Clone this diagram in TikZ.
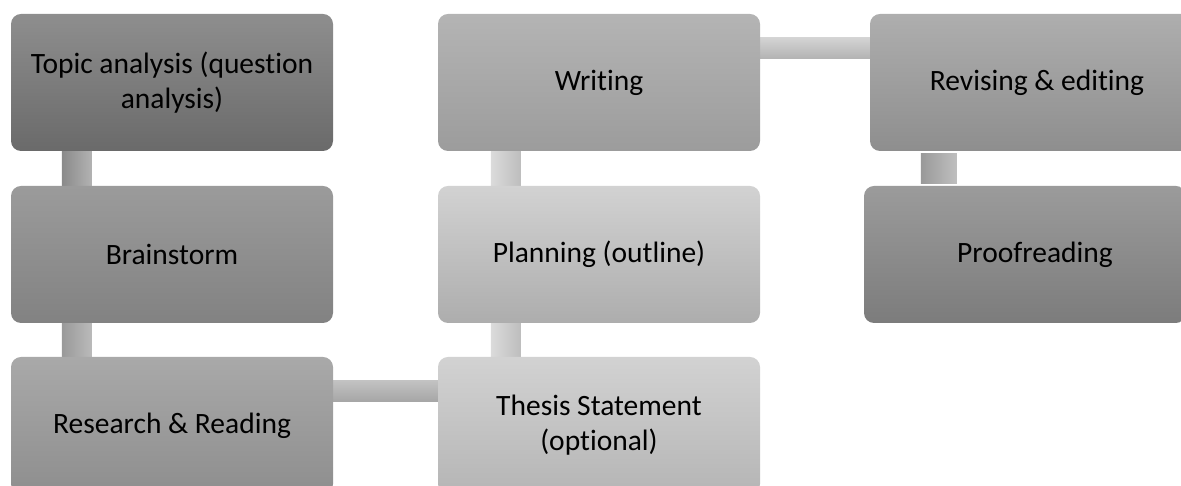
\documentclass[tikz,border=0pt]{standalone}
\usepackage{fontspec}
\setmainfont{Carlito}[Ligatures=NoCommon]
\usetikzlibrary{backgrounds}
\definecolor{tA}{HTML}{8E8E8E}\definecolor{bA}{HTML}{6A6A6A}
\definecolor{tB}{HTML}{9B9B9B}\definecolor{bB}{HTML}{828282}
\definecolor{tC}{HTML}{A9A9A9}\definecolor{bC}{HTML}{8E8E8E}
\definecolor{tD}{HTML}{B4B4B4}\definecolor{bD}{HTML}{9C9C9C}
\definecolor{tE}{HTML}{D2D2D2}\definecolor{bE}{HTML}{ADADAD}
\definecolor{tF}{HTML}{D2D2D2}\definecolor{bF}{HTML}{B5B5B5}
\definecolor{tG}{HTML}{AEAEAE}\definecolor{bG}{HTML}{8E8E8E}
\definecolor{tH}{HTML}{9B9B9B}\definecolor{bH}{HTML}{7C7C7C}
\tikzset{
  stepbox/.style={rectangle, rounded corners=10pt, minimum width=322pt, minimum height=137pt,
    inner sep=0pt, align=center, font=\fontsize{29.5}{35}\selectfont, text=black},
}
\begin{document}
\begin{tikzpicture}[x=1pt,y=1pt]
\useasboundingbox (0,0) rectangle (1181,486);
\clip (0,0) rectangle (1181,486);
% y_tikz = 486 - y_img
\node[stepbox, top color=tA, bottom color=bA] (topic) at (172,403.5) {Topic analysis (question\\analysis)};
\node[stepbox, top color=tB, bottom color=bB] (brain) at (172,231.5) {Brainstorm};
\node[stepbox, top color=tC, bottom color=bC] (research) at (172,60.5) {Research \& Reading};
\node[stepbox, top color=tD, bottom color=bD] (writing) at (599,403.5) {Writing};
\node[stepbox, top color=tE, bottom color=bE] (planning) at (599,231.5) {Planning (outline)};
\node[stepbox, top color=tF, bottom color=bF] (thesis) at (599,60.5) {Thesis Statement\\(optional)};
\node[stepbox, top color=tG, bottom color=bG] (revising) at (1031,403.5) {\hspace*{12pt}Revising \& editing};
\node[stepbox, top color=tH, bottom color=bH] (proof) at (1025,231.5) {\hspace*{20pt}Proofreading};
\begin{scope}[on background layer]
\shade[left color=black!46, right color=black!30]
  ([xshift=51pt,yshift=2pt]topic.south west) rectangle ([xshift=81pt,yshift=-2pt]brain.north west);
\shade[left color=black!40, right color=black!27]
  ([xshift=51pt,yshift=2pt]brain.south west) rectangle ([xshift=81pt,yshift=-2pt]research.north west);
\shade[left color=black!14, right color=black!26]
  ([xshift=53pt,yshift=2pt]writing.south west) rectangle ([xshift=83pt,yshift=-2pt]planning.north west);
\shade[left color=black!14, right color=black!26]
  ([xshift=53pt,yshift=2pt]planning.south west) rectangle ([xshift=83pt,yshift=-2pt]thesis.north west);
\shade[left color=black!40, right color=black!25]
  ([xshift=57pt,yshift=2pt]proof.north west) rectangle ([xshift=87pt,yshift=-2pt]revising.south west);
\shade[top color=black!17, bottom color=black!30]
  ([xshift=-2pt,yshift=-24pt]writing.north east) rectangle ([xshift=2pt,yshift=-45pt]revising.north west);
\shade[top color=black!24, bottom color=black!35]
  ([xshift=-2pt,yshift=-24pt]research.north east) rectangle ([xshift=2pt,yshift=-45pt]thesis.north west);
\end{scope}
\end{tikzpicture}
\end{document}
